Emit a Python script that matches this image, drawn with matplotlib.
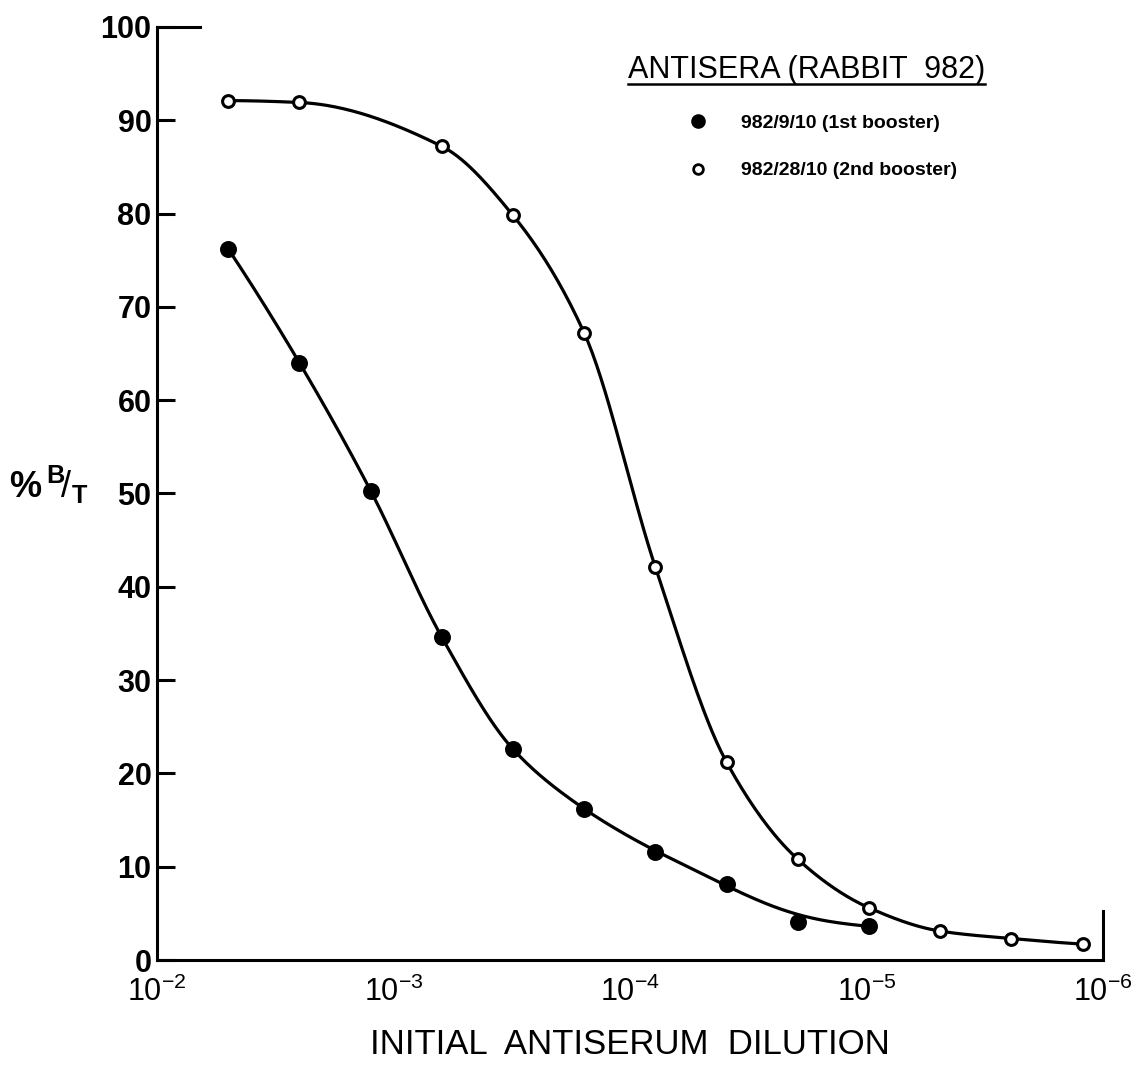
import numpy as np
import matplotlib
matplotlib.use("Agg")
import matplotlib.pyplot as plt
from matplotlib.lines import Line2D

plt.rcParams['font.family'] = ['Liberation Sans', 'DejaVu Sans']
plt.rcParams['mathtext.fontset'] = 'custom'
plt.rcParams['mathtext.rm'] = 'Liberation Sans'
plt.rcParams['mathtext.it'] = 'Liberation Sans'
plt.rcParams['mathtext.bf'] = 'Liberation Sans:bold'

# doubling dilutions (1 : n)
dil_first = [200, 400, 800, 1600, 3200, 6400, 12800, 25600, 51200, 102400]
bt_first = [76.2, 64.0, 50.3, 34.6, 22.6, 16.2, 11.6, 8.1, 4.1, 3.6]

dil_second = [200, 400, 1600, 3200, 6400, 12800, 25600, 51200, 102400, 204800, 409600, 819200]
bt_second = [92.1, 91.9, 87.2, 79.8, 67.2, 42.1, 21.2, 10.8, 5.6, 3.1, 2.3, 1.7]

label_first = "982/9/10 (1st booster)"
label_second = "982/28/10 (2nd booster)"
xtick_vals = [1e-2, 1e-3, 1e-4, 1e-5, 1e-6]
xtick_labels = [r'$10^{-2}$', r'$10^{-3}$', r'$10^{-4}$', r'$10^{-5}$', r'$10^{-6}$']
yticks = list(range(0, 101, 10))


def pchip(x, y, xs):
    x = np.asarray(x, float); y = np.asarray(y, float)
    h = np.diff(x); d = np.diff(y) / h
    m = np.zeros_like(y)
    for i in range(1, len(y) - 1):
        if d[i-1] * d[i] > 0:
            w1 = 2*h[i] + h[i-1]; w2 = h[i] + 2*h[i-1]
            m[i] = (w1 + w2) / (w1/d[i-1] + w2/d[i])
    def end(h0, h1, d0, d1):
        s = ((2*h0 + h1)*d0 - h0*d1) / (h0 + h1)
        if np.sign(s) != np.sign(d0):
            s = 0.0
        elif np.sign(d0) != np.sign(d1) and abs(s) > abs(3*d0):
            s = 3*d0
        return s
    m[0] = end(h[0], h[1], d[0], d[1])
    m[-1] = end(h[-1], h[-2], d[-1], d[-2])
    idx = np.clip(np.searchsorted(x, xs) - 1, 0, len(x) - 2)
    t = (xs - x[idx]) / h[idx]
    h00 = 2*t**3 - 3*t**2 + 1; h10 = t**3 - 2*t**2 + t
    h01 = -2*t**3 + 3*t**2; h11 = t**3 - t**2
    return h00*y[idx] + h10*h[idx]*m[idx] + h01*y[idx+1] + h11*h[idx]*m[idx+1]


def smooth(ys, sigma):
    n = int(3 * sigma)
    k = np.exp(-0.5 * (np.arange(-n, n + 1) / sigma) ** 2); k /= k.sum()
    return np.convolve(np.pad(ys, n, mode='reflect', reflect_type='odd'), k, mode='valid')


fig = plt.figure(figsize=(11.48, 10.76), dpi=100)
ax = fig.add_axes([0.1368, 0.1078, 0.8240, 0.8672])

# 1st booster: pchip, with the tail eased like a French-curve line
u1 = np.log10(np.array(dil_first, float))
us1 = np.linspace(u1[0], u1[-1], 400)
y1 = pchip(u1, bt_first, us1)
w = np.clip((us1 - u1[5]) / (u1[7] - u1[5]), 0, 1)
y1 = (1 - w) * y1 + w * smooth(y1, 30)
ax.plot(10**(-us1), y1, color='black', lw=2.3, zorder=2)
ax.plot(1.0 / np.array(dil_first, float), bt_first, ls='none', marker='o', ms=10,
        mfc='black', mec='black', mew=2.2, zorder=3)

# 2nd booster
u2 = np.log10(np.array(dil_second, float))
us2 = np.linspace(u2[0], u2[-1], 400)
ax.plot(10**(-us2), pchip(u2, bt_second, us2), color='black', lw=2.3, zorder=2)
ax.plot(1.0 / np.array(dil_second, float), bt_second, ls='none', marker='o', ms=8.5,
        mfc='white', mec='black', mew=2.2, zorder=3)

ax.set_xscale('log')
ax.set_xlim(1e-2, 1e-6)
ax.set_ylim(0, 100)
ax.set_xticks(xtick_vals)
ax.set_xticklabels(xtick_labels, fontsize=22)
ax.minorticks_off()
ax.set_yticks(yticks)
ax.set_yticklabels([str(v) for v in yticks], fontsize=22, fontweight='bold')
ax.tick_params(axis='y', direction='in', length=13, width=2.2, pad=4)
ax.tick_params(axis='x', length=0, pad=12)

for s in ax.spines.values():
    s.set_linewidth(2.2)
ax.spines['top'].set_bounds(1e-2, 6.6e-3)
ax.spines['right'].set_bounds(0, 5.2)

fig.text(630/1148, 1 - 1045/1076, 'INITIAL  ANTISERUM  DILUTION', fontsize=25,
         ha='center', va='center')

fig.text(0.008, 1 - 485/1076, r'%$\,^{\mathbf{B}}\!/_{\mathbf{T}}$', fontsize=26,
         fontweight='bold', va='center', ha='left')

title = fig.text(628/1148, 1 - 78/1076, 'ANTISERA (RABBIT  982)', fontsize=22,
                 va='baseline', ha='left')
fig.canvas.draw()
bb = title.get_window_extent().transformed(fig.transFigure.inverted())
fig.add_artist(Line2D([bb.x0, bb.x1], [1 - 84/1076] * 2, color='black', lw=1.8,
                      transform=fig.transFigure))

handles = [Line2D([], [], ls='none', marker='o', ms=8.5, mfc='black', mec='black', mew=2),
           Line2D([], [], ls='none', marker='o', ms=7, mfc='white', mec='black', mew=2)]
fig.legend(handles, [label_first, label_second], loc='upper left',
           bbox_to_anchor=(690/1148, 1 - 114/1076), frameon=False,
           prop={'size': 14, 'weight': 'bold'}, handlelength=0.8,
           handletextpad=1.8, labelspacing=1.55, borderpad=0, borderaxespad=0)

fig.savefig('out.png', dpi=100)
